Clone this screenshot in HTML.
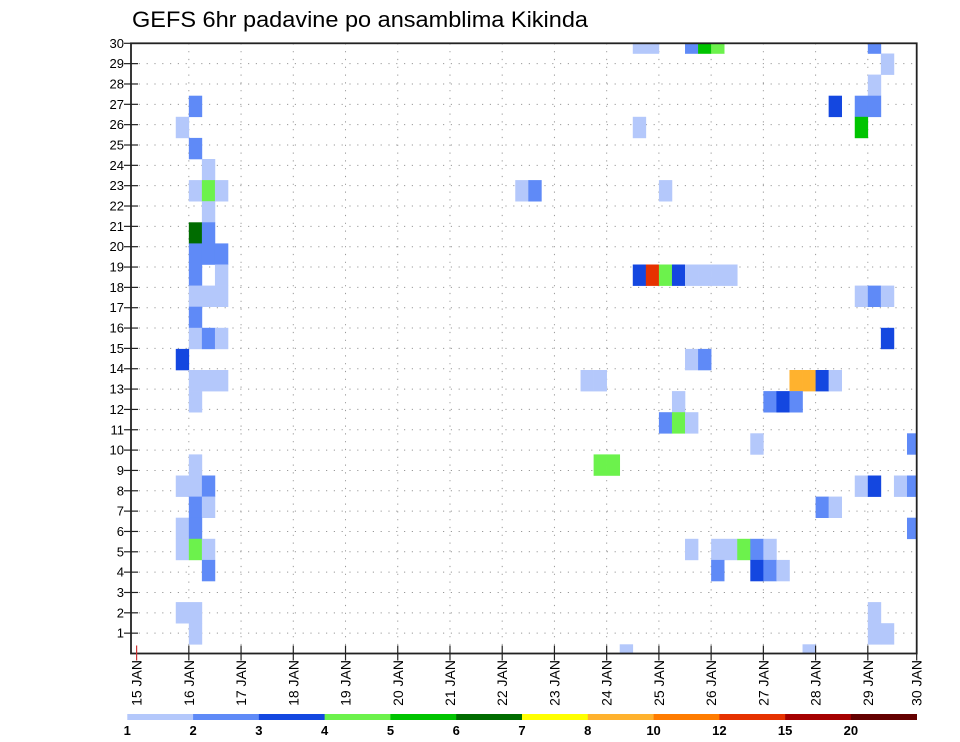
<!DOCTYPE html>
<html><head><meta charset="utf-8"><title>GEFS 6hr padavine po ansamblima Kikinda</title>
<style>
html,body{margin:0;padding:0;background:#fff;}
svg{display:block;font-family:"Liberation Sans",sans-serif;}
</style></head>
<body>
<svg id="chart" width="960" height="742" viewBox="0 0 960 742" xmlns="http://www.w3.org/2000/svg">
  <text x="132" y="27" font-size="22" fill="#000" textLength="456" lengthAdjust="spacingAndGlyphs">GEFS 6hr padavine po ansamblima Kikinda</text>
  <defs><clipPath id="plotclip"><rect x="131" y="43.3" width="785.7" height="610.2"/></clipPath></defs>
  <g id="grid"></g>
  <g id="cells" clip-path="url(#plotclip)"></g>
  <rect x="131" y="43.3" width="785.7" height="610.2" fill="none" stroke="#222" stroke-width="1.8"/>
  <g id="yaxis"></g>
  <g id="xaxis"></g>
  <g id="legend"></g>
</svg>
<script>
// ---- data ----
const dayLabels = ["15 JAN","16 JAN","17 JAN","18 JAN","19 JAN","20 JAN","21 JAN","22 JAN","23 JAN","24 JAN","25 JAN","26 JAN","27 JAN","28 JAN","29 JAN","30 JAN"];
const memberTicks = [1,2,3,4,5,6,7,8,9,10,11,12,13,14,15,16,17,18,19,20,21,22,23,24,25,26,27,28,29,30];
const legendLabels = ["1","2","3","4","5","6","7","8","10","12","15","20"];
const levelColors = ["#b4c8fb","#5f8af7","#1447e0","#6cf24c","#00c400","#006c00","#ffff00","#ffb22e","#ff7c00","#e63200","#a50000","#640000"];
// ensemble member (row), 6-hour step from 15 JAN 00z, colour class (1..12)
const cellMember = [27,26,25,24,23,23,23,22,21,21,20,20,20,19,19,18,18,18,17,16,16,16,15,14,14,14,13,10,9,9,9,8,8,7,7,6,6,6,5,3,3,2,
  23,23,
  30,30,30,30,30,30,29,28,27,27,27,26,26,23,
  19,19,19,19,19,19,19,19,
  18,18,18,16,15,15,
  14,14,14,14,14,14,
  13,13,13,13,
  12,12,12,
  11,11,10,10,
  9,9,9,9,
  8,8,7,
  6,6,6,6,6,6,
  5,5,5,5,
  3,2,2,1,1];
const cellStep = [4,3,4,5,4,5,6,5,4,5,4,5,6,4,6,4,5,6,4,4,5,6,3,4,5,6,4,4,3,4,5,4,5,3,4,3,4,5,5,3,4,4,
  29,30,
  38,39,42,43,44,56,57,56,53,55,56,38,55,40,
  38,39,40,41,42,43,44,45,
  55,56,57,57,42,43,
  34,35,50,51,52,53,
  41,48,49,50,
  40,41,42,
  47,59,35,36,
  55,56,58,59,
  52,53,59,
  42,44,45,46,47,48,
  44,47,48,49,
  56,56,57,37,51];
const cellLevel = [2,1,2,1,1,4,1,1,6,2,2,2,2,2,1,1,1,1,2,1,2,1,3,1,1,1,1,1,1,1,2,2,1,1,2,1,4,1,2,1,1,1,
  1,2,
  1,1,2,5,4,2,1,1,3,2,2,1,5,1,
  3,10,4,3,1,1,1,1,
  1,2,1,3,1,2,
  1,1,8,8,3,1,
  1,2,3,2,
  2,4,1,
  1,2,4,4,
  1,3,1,2,
  2,1,2,
  1,1,1,4,2,1,
  2,3,2,1,
  1,1,1,1,1];

// ---- scales ----
const NS = "http://www.w3.org/2000/svg";
const X0 = 136.6, DAY = 52.23, STEP = DAY/4;
const PL = 131, PR = 916.7, PT = 43.3, PB = 653.5;
function xDay(i){ return Math.min(X0 + i*DAY, PR); }
function xStep(s){ return X0 + s*STEP; }
function yTick(m){ return PT + (30 - m) * (PB - PT - 0.4) / 29.5 * 0.9833 ; }
function yCellTop(m){ return 95.7 + (27 - m) * 21.1; }
function mk(tag, attrs, parent){ const e=document.createElementNS(NS,tag); for(const k in attrs) e.setAttribute(k,attrs[k]); parent.appendChild(e); return e; }

const grid = document.getElementById("grid");
const cells = document.getElementById("cells");
const yaxis = document.getElementById("yaxis");
const xaxis = document.getElementById("xaxis");
const legend = document.getElementById("legend");

function rowY(m){ return PT + (30 - m) * 20.34; }

// grid + y axis
memberTicks.forEach(m => {
  const y = rowY(m);
  if (m < 30) {
    const g = mk("line", {x1:PL, x2:PR, y1:y, y2:y, stroke:"#999", "stroke-width":1, "stroke-dasharray":"1.2,6.6"}, grid);
    
    
  }
  const t = mk("line", {x1:PL-7, x2:PL+7, y1:y, y2:y, stroke:"#222", "stroke-width":1.2}, yaxis);
  
  
  const lbl = mk("text", {x:PL-7, y:y+4.5, "font-size":13, "text-anchor":"end", fill:"#000"}, yaxis);
  lbl.textContent = m;
  
  
});

// x axis
dayLabels.forEach((d, i) => {
  const x = xDay(i);
  if (i > 0 && i < dayLabels.length - 1) {
    const g = mk("line", {x1:x, x2:x, y1:PT, y2:PB, stroke:"#999", "stroke-width":1, "stroke-dasharray":"1.2,6.6"}, grid);
    
    
  }
  const t = mk("line", {x1:x, x2:x, y1:PB-8, y2:PB+7, stroke: i===0 ? "#c33" : "#222", "stroke-width":1.2}, xaxis);
  
  
  const lbl = mk("text", {x:0, y:0, "font-size":14, "text-anchor":"end", fill:"#000",
    transform:"translate(" + (x+5) + "," + 660 + ") rotate(-90)"}, xaxis);
  lbl.textContent = d;
  
  
});

// cells
for (let k = 0; k < cellMember.length; k++) {
  const r = mk("rect", {x:xStep(cellStep[k]), y:yCellTop(cellMember[k]), width:STEP+0.3, height:21.4, fill:levelColors[cellLevel[k]-1]}, cells);
  
  
}

// legend
const LX0 = 127.3, LW = (916.7 - 127.3) / levelColors.length;
levelColors.forEach((c, i) => {
  const r = mk("rect", {x:LX0 + i*LW, y:714, width:LW+0.3, height:6, fill:c}, legend);
  
  
});
legendLabels.forEach((l, i) => {
  const t = mk("text", {x:LX0 + i*LW, y:735, "font-size":13, "font-weight":"bold", "text-anchor":"middle", fill:"#000"}, legend);
  t.textContent = l;
  
  
});
</script>
</body></html>
